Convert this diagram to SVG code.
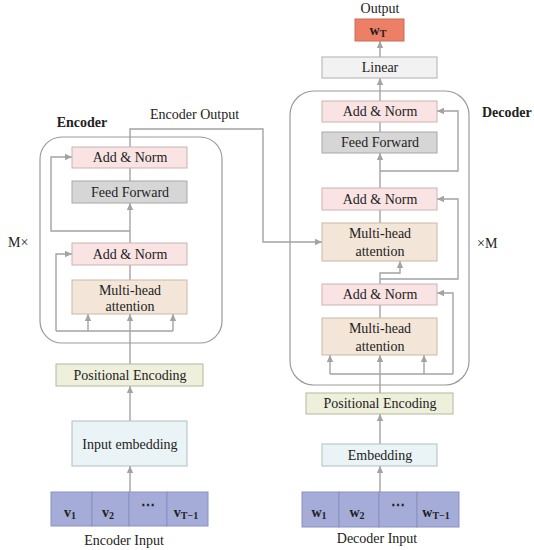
<svg xmlns="http://www.w3.org/2000/svg" width="534" height="550" viewBox="0 0 534 550">
<style>
text{font-family:"Liberation Serif","Times New Roman",serif;fill:#222;}
.t{font-size:14px;text-anchor:middle;}
.b{font-weight:bold;}
.an{fill:#f9e3e3;stroke:#cdb3b3;stroke-width:1;}
.ff{fill:#d6d6d6;stroke:#a8a8a8;stroke-width:1;}
.mh{fill:#f3e6d8;stroke:#c9b8a6;stroke-width:1;}
.pe{fill:#eef0dc;stroke:#b4b89c;stroke-width:1;}
.em{fill:#eaf4f6;stroke:#aebfc4;stroke-width:1;}
.li{fill:#f2f2f2;stroke:#b0b0b0;stroke-width:1;}
.tok{fill:#a5acd8;stroke:#8a91c2;stroke-width:1;}
.ct{fill:none;stroke:#9a9a9a;stroke-width:1.2;}
.c{fill:none;stroke:#a3a3a3;stroke-width:1.4;}
.tk{font-size:14px;font-weight:bold;text-anchor:middle;}
.sub{font-size:10px;font-weight:bold;}
</style>
<defs>
<marker id="ar" markerWidth="8" markerHeight="8" refX="7" refY="4" orient="auto" markerUnits="userSpaceOnUse">
<path d="M0,0.8 L7,4 L0,7.2 Z" fill="#a3a3a3"/>
</marker>
</defs>

<!-- containers -->
<g id="encoder-block">
<rect class="ct" x="40" y="137" width="182" height="206" rx="22"/>
<text class="t b" x="82" y="127">Encoder</text>
<text x="8" y="247" style="font-size:14px">M×</text>
</g>
<g id="decoder-block">
<rect class="ct" x="290" y="91" width="179" height="294" rx="24"/>
<text class="b" x="482" y="117" style="font-size:14px">Decoder</text>
<text x="477" y="248" style="font-size:14px">×M</text>
</g>

<!-- connectors -->
<g id="connectors">
<!-- encoder -->
<line class="c" x1="130" y1="492" x2="130" y2="466" marker-end="url(#ar)"/>
<line class="c" x1="130" y1="421" x2="130" y2="386" marker-end="url(#ar)"/>
<line class="c" x1="130" y1="364" x2="130" y2="314" marker-end="url(#ar)"/>
<line class="c" x1="56" y1="331" x2="173" y2="331"/>
<line class="c" x1="88" y1="331" x2="88" y2="314" marker-end="url(#ar)"/>
<line class="c" x1="173" y1="331" x2="173" y2="314" marker-end="url(#ar)"/>
<polyline class="c" points="56,331 56,254 72,254" marker-end="url(#ar)"/>
<line class="c" x1="130" y1="280" x2="130" y2="265"/>
<line class="c" x1="130" y1="243" x2="130" y2="203" marker-end="url(#ar)"/>
<polyline class="c" points="130,231 51,231 51,157 72,157" marker-end="url(#ar)"/>
<line class="c" x1="130" y1="181" x2="130" y2="168"/>
<polyline class="c" points="130,147 130,129 263,129 263,242 322,242" marker-end="url(#ar)"/>
<!-- decoder -->
<line class="c" x1="380" y1="492" x2="380" y2="466" marker-end="url(#ar)"/>
<line class="c" x1="380" y1="444" x2="380" y2="414" marker-end="url(#ar)"/>
<line class="c" x1="380" y1="393" x2="380" y2="355" marker-end="url(#ar)"/>
<line class="c" x1="330" y1="374" x2="453" y2="374"/>
<line class="c" x1="330" y1="374" x2="330" y2="355" marker-end="url(#ar)"/>
<line class="c" x1="424" y1="374" x2="424" y2="355" marker-end="url(#ar)"/>
<polyline class="c" points="453,374 453,293 437,293" marker-end="url(#ar)"/>
<line class="c" x1="380" y1="318" x2="380" y2="305"/>
<polyline class="c" points="380,284 380,273 400,273 400,261" marker-end="url(#ar)"/>
<polyline class="c" points="380,279 458,279 458,199 437,199" marker-end="url(#ar)"/>
<line class="c" x1="380" y1="223" x2="380" y2="210"/>
<line class="c" x1="380" y1="188" x2="380" y2="153" marker-end="url(#ar)"/>
<polyline class="c" points="380,171 458,171 458,111 437,111" marker-end="url(#ar)"/>
<line class="c" x1="380" y1="132" x2="380" y2="122"/>
<line class="c" x1="380" y1="101" x2="380" y2="78" marker-end="url(#ar)"/>
<line class="c" x1="380" y1="57" x2="380" y2="41" marker-end="url(#ar)"/>
</g>

<!-- encoder nodes -->
<g id="enc-addnorm2"><rect class="an" x="72" y="147" width="115" height="21"/><text class="t" x="130" y="162">Add &amp; Norm</text></g>
<g id="enc-feedforward"><rect class="ff" x="72" y="181" width="115" height="22"/><text class="t" x="130" y="197">Feed Forward</text></g>
<g id="enc-addnorm1"><rect class="an" x="72" y="243" width="115" height="22"/><text class="t" x="130" y="259">Add &amp; Norm</text></g>
<g id="enc-mha"><rect class="mh" x="72" y="280" width="115" height="34"/><text class="t" x="130" y="295">Multi-head</text><text class="t" x="130" y="311">attention</text></g>
<g id="enc-posenc"><rect class="pe" x="56" y="364" width="147" height="22"/><text class="t" x="130" y="380">Positional Encoding</text></g>
<g id="enc-embedding"><rect class="em" x="72" y="421" width="115" height="45"/><text class="t" x="130" y="449">Input embedding</text></g>
<g id="enc-input">
<rect class="tok" x="51" y="492" width="41" height="34"/>
<rect class="tok" x="92" y="492" width="37" height="34"/>
<rect class="tok" x="129" y="492" width="38" height="34"/>
<rect class="tok" x="167" y="492" width="41" height="34"/>
<text class="tk" x="70" y="517">v<tspan class="sub" dy="2">1</tspan></text>
<text class="tk" x="108" y="517">v<tspan class="sub" dy="2">2</tspan></text>
<text class="tk" x="148" y="510">⋯</text>
<text class="tk" x="186" y="517">v<tspan class="sub" dy="2">T−1</tspan></text>
<text class="t" x="124" y="545">Encoder Input</text>
</g>
<g id="enc-output-label"><text x="150" y="119" style="font-size:14px">Encoder Output</text></g>

<!-- decoder nodes -->
<g id="output-label"><text class="t" x="380" y="13">Output</text></g>
<g id="dec-output"><rect x="355" y="19" width="49" height="22" fill="#ec7f66" stroke="#c96c57" stroke-width="1"/><text class="tk" x="378" y="35">w<tspan class="sub" dy="2">T</tspan></text></g>
<g id="dec-linear"><rect class="li" x="322" y="57" width="115" height="21"/><text class="t" x="380" y="72">Linear</text></g>
<g id="dec-addnorm3"><rect class="an" x="322" y="101" width="115" height="21"/><text class="t" x="380" y="116">Add &amp; Norm</text></g>
<g id="dec-feedforward"><rect class="ff" x="322" y="132" width="115" height="21"/><text class="t" x="380" y="147">Feed Forward</text></g>
<g id="dec-addnorm2"><rect class="an" x="322" y="188" width="115" height="22"/><text class="t" x="380" y="204">Add &amp; Norm</text></g>
<g id="dec-mha2"><rect class="mh" x="322" y="223" width="115" height="38"/><text class="t" x="380" y="238">Multi-head</text><text class="t" x="380" y="256">attention</text></g>
<g id="dec-addnorm1"><rect class="an" x="322" y="284" width="115" height="21"/><text class="t" x="380" y="299">Add &amp; Norm</text></g>
<g id="dec-mha1"><rect class="mh" x="322" y="318" width="115" height="37"/><text class="t" x="380" y="333">Multi-head</text><text class="t" x="380" y="351">attention</text></g>
<g id="dec-posenc"><rect class="pe" x="306" y="393" width="147" height="21"/><text class="t" x="380" y="408">Positional Encoding</text></g>
<g id="dec-embedding"><rect class="em" x="322" y="444" width="115" height="22"/><text class="t" x="380" y="460">Embedding</text></g>
<g id="dec-input">
<rect class="tok" x="302" y="492" width="37" height="35"/>
<rect class="tok" x="339" y="492" width="40" height="35"/>
<rect class="tok" x="379" y="492" width="38" height="35"/>
<rect class="tok" x="417" y="492" width="42" height="35"/>
<text class="tk" x="319" y="517">w<tspan class="sub" dy="2">1</tspan></text>
<text class="tk" x="357" y="517">w<tspan class="sub" dy="2">2</tspan></text>
<text class="tk" x="398" y="510">⋯</text>
<text class="tk" x="436" y="517">w<tspan class="sub" dy="2">T−1</tspan></text>
<text class="t" x="377" y="543">Decoder Input</text>
</g>
</svg>
